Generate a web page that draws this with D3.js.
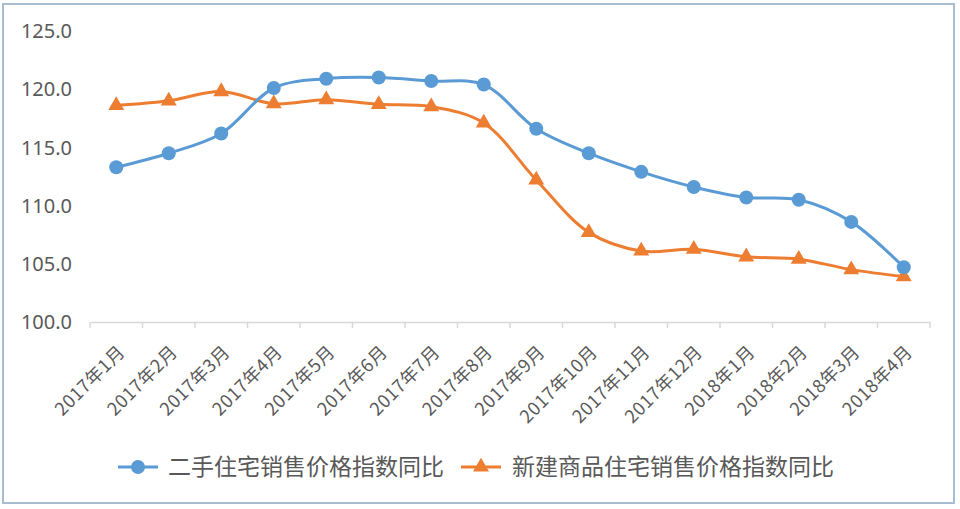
<!DOCTYPE html>
<html><head><meta charset="utf-8">
<script src="https://cdn.jsdelivr.net/npm/d3@7"></script>
<style>body{margin:0;background:#fff}svg{display:block}</style>
</head><body>
<svg id="c" width="960" height="509"></svg>
<script>
const categories = ["2017年1月","2017年2月","2017年3月","2017年4月","2017年5月","2017年6月","2017年7月","2017年8月","2017年9月","2017年10月","2017年11月","2017年12月","2018年1月","2018年2月","2018年3月","2018年4月"];
const secondHand = [113.3,114.5,116.2,120.1,120.9,121.0,120.7,120.4,116.6,114.5,112.9,111.6,110.7,110.5,108.6,104.7];
const newHomes = [118.6,119.0,119.8,118.75,119.1,118.7,118.5,117.1,112.2,107.7,106.1,106.25,105.6,105.4,104.5,103.9];
const yTicks = [100,105,110,115,120,125];
const seriesNames = ["二手住宅销售价格指数同比","新建商品住宅销售价格指数同比"];

const svg = d3.select("#c");
const blue="#5B9BD5", orange="#ED7D31", txt="#595959";
svg.append("rect").attr("x",3).attr("y",4).attr("width",951).attr("height",499)
  .attr("fill","#fff").attr("stroke","#A9BCD0").attr("stroke-width",2);

const x = d3.scaleBand().domain(categories).range([90,930]);
const y = d3.scaleLinear().domain([100,125]).range([322,31]);

// y labels
svg.append("g").selectAll("text").data(yTicks).join("text")
  .attr("x",72).attr("y",d=>y(d)).attr("dy","0.36em").attr("text-anchor","end")
  .attr("font-family","Noto Sans, sans-serif").attr("font-size",20).attr("fill",txt)
  .text(d=>d.toFixed(1));

// x axis
const xa = svg.append("g").attr("transform","translate(0,322)")
  .call(d3.axisBottom(x).tickSize(0).tickFormat(""));
xa.select(".domain").attr("stroke","#D9D9D9").attr("stroke-width",1.5);
const bounds = categories.map(c=>x(c)).concat([930]);
svg.append("g").selectAll("line").data(bounds).join("line")
  .attr("x1",d=>d).attr("x2",d=>d).attr("y1",322).attr("y2",328)
  .attr("stroke","#D9D9D9").attr("stroke-width",1.5);

svg.append("g").selectAll("text").data(categories).join("text")
  .attr("transform",d=>`translate(${x(d)+x.bandwidth()/2+10},${353}) rotate(-45)`)
  .attr("text-anchor","end")
  .attr("font-family","Noto Sans CJK SC, sans-serif").attr("font-size",18).attr("letter-spacing",0.6).attr("fill",txt)
  .text(d=>d);

const cx = d=>x(d)+x.bandwidth()/2;
const line = d3.line().curve(d3.curveCatmullRom.alpha(0.5)).x((d,i)=>cx(categories[i])).y(d=>y(d));

svg.append("path").datum(newHomes).attr("d",line).attr("fill","none").attr("stroke",orange).attr("stroke-width",3);
svg.append("path").datum(secondHand).attr("d",line).attr("fill","none").attr("stroke",blue).attr("stroke-width",3);

const tri = d3.symbol().type(d3.symbolTriangle).size(110);
svg.append("g").selectAll("path").data(newHomes).join("path")
  .attr("transform",(d,i)=>`translate(${cx(categories[i])},${y(d)})`).attr("d",tri).attr("fill",orange);
svg.append("g").selectAll("circle").data(secondHand).join("circle")
  .attr("cx",(d,i)=>cx(categories[i])).attr("cy",d=>y(d)).attr("r",7).attr("fill",blue);

// legend
const lg = svg.append("g");
const ly = 467;
lg.append("line").attr("x1",118).attr("x2",158).attr("y1",ly).attr("y2",ly).attr("stroke",blue).attr("stroke-width",3);
lg.append("circle").attr("cx",138).attr("cy",ly).attr("r",7).attr("fill",blue);
lg.append("text").attr("x",168).attr("y",ly).attr("dy","0.36em").attr("font-family","Noto Sans CJK SC, sans-serif").attr("font-size",23).attr("fill",txt).text(seriesNames[0]);
lg.append("line").attr("x1",461).attr("x2",501).attr("y1",ly).attr("y2",ly).attr("stroke",orange).attr("stroke-width",3);
lg.append("path").attr("transform",`translate(481,${ly})`).attr("d",tri).attr("fill",orange);
lg.append("text").attr("x",512).attr("y",ly).attr("dy","0.36em").attr("font-family","Noto Sans CJK SC, sans-serif").attr("font-size",23).attr("fill",txt).text(seriesNames[1]);
</script>
</body></html>
